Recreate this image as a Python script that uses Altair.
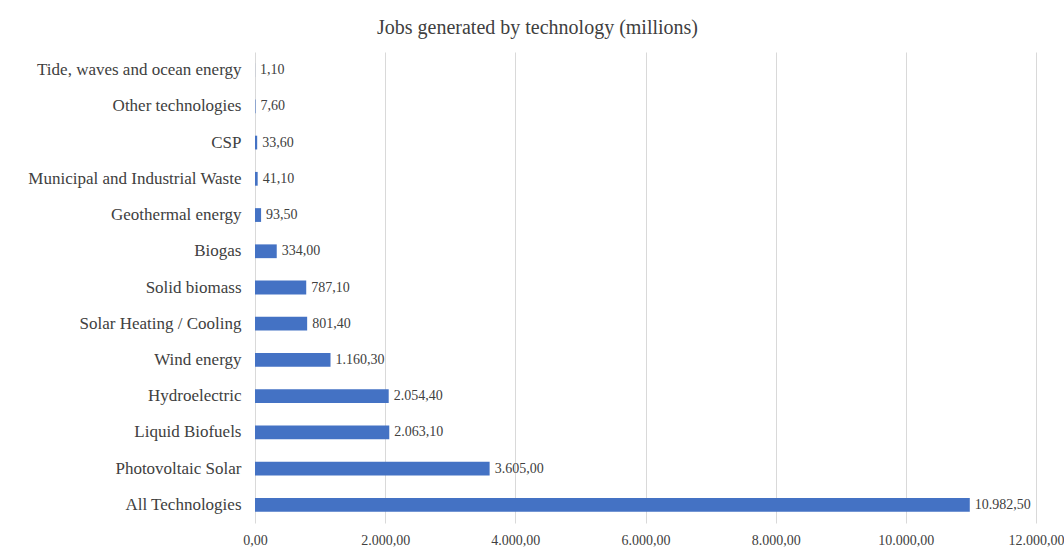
import altair as alt
import pandas as pd

categories = [
    "Tide, waves and ocean energy",
    "Other technologies",
    "CSP",
    "Municipal and Industrial Waste",
    "Geothermal energy",
    "Biogas",
    "Solid biomass",
    "Solar Heating / Cooling",
    "Wind energy",
    "Hydroelectric",
    "Liquid Biofuels",
    "Photovoltaic Solar",
    "All Technologies",
]
values = [1.10, 7.60, 33.60, 41.10, 93.50, 334.00, 787.10, 801.40,
          1160.30, 2054.40, 2063.10, 3605.00, 10982.50]
x_ticks = [0, 2000, 4000, 6000, 8000, 10000, 12000]


def eu(v):
    s = f"{v:,.2f}"
    return s.replace(",", "_").replace(".", ",").replace("_", ".")


df = pd.DataFrame({
    "cat": categories,
    "val": values,
    "label": [eu(v) for v in values],
})

FONT = "Liberation Serif"

base = alt.Chart(df).encode(
    y=alt.Y("cat:N", sort=categories, title=None,
            scale=alt.Scale(paddingInner=0.62, paddingOuter=0.31),
            axis=alt.Axis(domain=False, ticks=False, labelPadding=14,
                          labelFont=FONT, labelFontSize=17,
                          labelColor="#404040", labelLimit=400)),
)

bars = base.mark_bar(color="#4472C4").encode(
    x=alt.X("val:Q", title=None,
            scale=alt.Scale(domain=[0, 12000], nice=False),
            axis=alt.Axis(values=x_ticks, domain=False, ticks=False,
                          grid=True, gridColor="#d9d9d9", labelPadding=10,
                          labelFlush=False,
                          labelFont=FONT, labelFontSize=14,
                          labelColor="#404040",
                          labelExpr="replace(replace(replace(format(datum.value, ',.2f'), ',', '_'), '.', ','), '_', '.')")),
)

texts = base.mark_text(align="left", baseline="middle", dx=5,
                       font=FONT, fontSize=14, color="#404040").encode(
    x="val:Q",
    text="label:N",
)

chart = (bars + texts).properties(
    width=781,
    height=471,
    autosize="none",
    background="white",
    padding={"left": 255, "top": 52, "right": 28, "bottom": 29},
    title=alt.TitleParams("Jobs generated by technology (millions)",
                          font=FONT, fontSize=20, fontWeight="normal",
                          color="#404040", dx=-108, offset=14),
).configure_view(strokeWidth=0, stroke="transparent")

chart.save("out.html", embed_options={"renderer": "svg", "actions": False})
